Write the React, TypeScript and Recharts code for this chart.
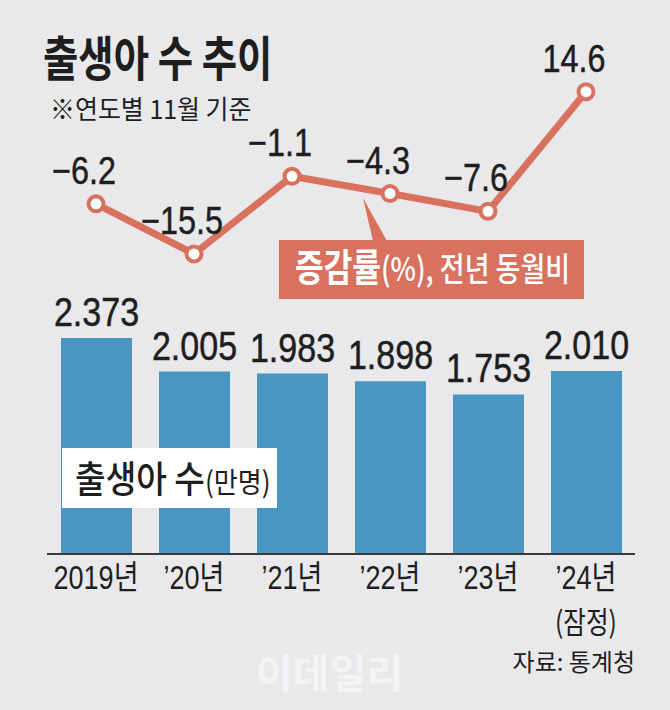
import React from "react"
import { ComposedChart, Bar, Line, XAxis, YAxis, LabelList } from "recharts"

// 출생아 수 (만명), 연도별 11월 기준
const years = ["2019년", "’20년", "’21년", "’22년", "’23년", "’24년"]
const yearNotes = ["", "", "", "", "", "(잠정)"]
const births = [2.373, 2.005, 1.983, 1.898, 1.753, 2.01]
// 증감률(%), 전년 동월비
const changeRate = [-6.2, -15.5, -1.1, -4.3, -7.6, 14.6]

const data = years.map((year, i) => ({
  year,
  note: yearNotes[i],
  births: births[i],
  change: changeRate[i],
}))

const BG = "#e9e9eb"
const BLUE = "#4a96c3"
const RED = "#d8725f"
const INK = "#1e1e1e"
const NUM_FONT = "'Liberation Sans', Arial, sans-serif"
const KR_FONT = "'Noto Sans CJK KR', 'Noto Sans', sans-serif"
// the original uses a condensed face, so squeeze text horizontally
const NARROW = 0.83

const fmtRate = (v: number) => (v < 0 ? "\u2212" + Math.abs(v).toFixed(1) : v.toFixed(1))

function BarValue(props: any) {
  const { x, y, width, value } = props
  return (
    <text
      transform={`translate(${x + width / 2},${y - 12}) scale(${NARROW},1)`}
      textAnchor="middle"
      fontFamily={NUM_FONT}
      fontSize={41}
      fill={INK}
      stroke={INK}
      strokeWidth={0.5}
    >
      {Number(value).toFixed(3)}
    </text>
  )
}

function RateValue(props: any) {
  const { x, y, value } = props
  return (
    <text
      transform={`translate(${x - 12},${y - 20}) scale(${NARROW},1)`}
      textAnchor="middle"
      fontFamily={NUM_FONT}
      fontSize={39}
      fill={INK}
      stroke={INK}
      strokeWidth={0.5}
    >
      {fmtRate(Number(value))}
    </text>
  )
}

function YearTick(props: any) {
  const { x, y, payload } = props
  const note = yearNotes[payload.index]
  return (
    <g transform={`translate(${x},${y}) scale(0.82,1)`}>
      <text x={0} y={35} textAnchor="middle" fontFamily={`'Liberation Sans', ${KR_FONT}`} fontSize={33} fill={INK}>
        {payload.value}
      </text>
      {note && (
        <text x={0} y={79} textAnchor="middle" fontFamily={KR_FONT} fontSize={30} fill={INK}>
          {note}
        </text>
      )}
    </g>
  )
}

function RateDot(props: any) {
  const { cx, cy } = props
  return <circle cx={cx} cy={cy} r={7.5} fill="#fff" stroke={RED} strokeWidth={4} />
}

export default function App() {
  return (
    <div style={{ position: "absolute", left: 0, top: 0, width: 670, height: 710, background: BG, overflow: "hidden" }}>
      <ComposedChart width={670} height={710} data={data} margin={{ top: 20, right: 35, left: 47, bottom: 96 }}>
        <XAxis
          dataKey="year"
          height={60}
          tickLine={false}
          tickSize={0}
          tickMargin={0}
          axisLine={{ stroke: "#3a3a3a", strokeWidth: 2 }}
          tick={<YearTick />}
          interval={0}
        />
        <YAxis yAxisId="left" hide domain={[0, 5.868]} />
        <YAxis yAxisId="right" hide orientation="right" domain={[-71.17, 27.9]} />
        <Bar dataKey="births" yAxisId="left" fill={BLUE} barSize={71} isAnimationActive={false}>
          <LabelList dataKey="births" content={<BarValue />} />
        </Bar>
        <Line
          dataKey="change"
          yAxisId="right"
          type="linear"
          stroke={RED}
          strokeWidth={7}
          dot={<RateDot />}
          activeDot={false}
          isAnimationActive={false}
        >
          <LabelList dataKey="change" content={<RateValue />} />
        </Line>
      </ComposedChart>

      <svg width={670} height={710} style={{ position: "absolute", left: 0, top: 0, pointerEvents: "none" }}>
        {/* title */}
        <text transform="translate(43,76) scale(0.8,1)" fontFamily={KR_FONT} fontWeight={700} fontSize={48} fill={INK}>
          출생아 수 추이
        </text>
        <text transform="translate(50,119) scale(0.96,1)" fontFamily={KR_FONT} fontSize={26} fill={INK}>
          ※연도별 11월 기준
        </text>

        {/* rate callout */}
        <polygon points="363,198 373,241 387,241" fill={RED} />
        <rect x={279} y={240} width={305} height={59} fill={RED} />
        <text transform="translate(295,281) scale(0.82,1)" fontFamily={KR_FONT} fill="#fff">
          <tspan fontSize={38} fontWeight={700}>증감률</tspan>
          <tspan fontSize={33} fontWeight={500}>(%), 전년 동월비</tspan>
        </text>

        {/* births legend */}
        <rect x={62} y={448} width={215} height={60} fill="#fff" />
        <text transform="translate(75,493) scale(0.9,1)" fontFamily={KR_FONT} fill={INK}>
          <tspan fontSize={37} fontWeight={500}>출생아 수</tspan>
          <tspan fontSize={29}>(만명)</tspan>
        </text>

        {/* watermark + source */}
        <text x={256} y={688} fontFamily={KR_FONT} fontWeight={700} fontSize={40} fill="#f4f4f6">
          이데일리
        </text>
        <text x={635} y={671} textAnchor="end" fontFamily={KR_FONT} fontSize={24} fill={INK}>
          자료: 통계청
        </text>
      </svg>
    </div>
  )
}
